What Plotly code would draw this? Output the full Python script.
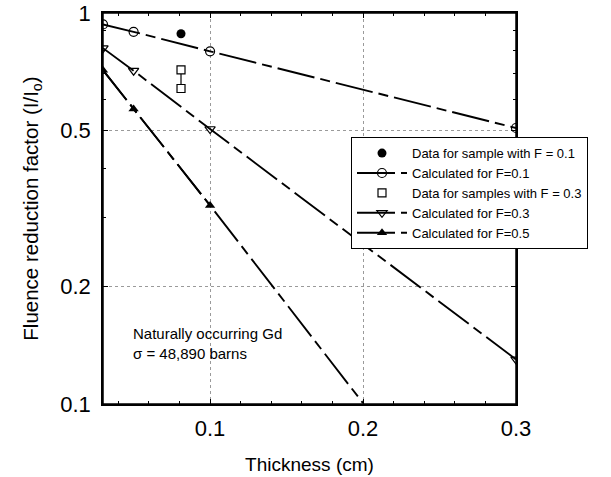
import math
import plotly.graph_objects as go

# Data
thick_calc = [0.03, 0.05, 0.1, 0.3]
calc_f01 = [0.935, 0.895, 0.798, 0.508]
calc_f03 = [0.813, 0.712, 0.505, 0.130]
thick_f05 = [0.03, 0.05, 0.1, 0.2]
calc_f05 = [0.714, 0.568, 0.322, 0.1005]
sample_f01_x = [0.081]
sample_f01_y = [0.885]
sample_f03_x = [0.081, 0.081]
sample_f03_y = [0.715, 0.641]

x_ticks = [0.1, 0.2, 0.3]
x_tick_text = ["0.1", "0.2", "0.3"]
y_ticks = [0.1, 0.2, 0.5, 1]
y_tick_text = ["0.1", "0.2", "0.5", "1"]
y_minor = [0.3, 0.4, 0.6, 0.7, 0.8, 0.9]

dash = "38px,6px,10px,6px"
blk = "black"
fam = "Liberation Sans"

fig = go.Figure()
fig.add_trace(go.Scatter(x=sample_f01_x, y=sample_f01_y, mode="markers",
                         marker=dict(symbol="circle", size=9, color=blk),
                         name="Data for sample with F = 0.1"))
fig.add_trace(go.Scatter(x=thick_calc, y=calc_f01, mode="lines+markers",
                         line=dict(color=blk, width=1.9, dash=dash),
                         marker=dict(symbol="circle-open", size=9, color=blk, line=dict(width=1.2)),
                         name="Calculated for F=0.1"))
fig.add_trace(go.Scatter(x=sample_f03_x, y=sample_f03_y, mode="lines",
                         line=dict(color=blk, width=1.2), showlegend=False, hoverinfo="skip"))
fig.add_trace(go.Scatter(x=sample_f03_x, y=sample_f03_y, mode="markers",
                         marker=dict(symbol="square", size=8, color="white", line=dict(width=1.2, color=blk)),
                         name="Data for samples with F = 0.3"))
fig.add_trace(go.Scatter(x=thick_calc, y=calc_f03, mode="lines+markers",
                         line=dict(color=blk, width=1.9, dash=dash),
                         marker=dict(symbol="triangle-down-open", size=9, color=blk, line=dict(width=1.2)),
                         name="Calculated for F=0.3"))
# F=0.5: full line (last point has no marker) + markers on the first points
fig.add_trace(go.Scatter(x=thick_f05, y=calc_f05, mode="lines",
                         line=dict(color=blk, width=1.9, dash=dash),
                         showlegend=False, hoverinfo="skip"))
fig.add_trace(go.Scatter(x=thick_f05[:3], y=calc_f05[:3], mode="lines+markers",
                         line=dict(color=blk, width=1.9, dash=dash),
                         marker=dict(symbol="triangle-up", size=9, color=blk),
                         name="Calculated for F=0.5"))

fig.add_annotation(x=0.0485, y=math.log10(0.143), xref="x", yref="y", showarrow=False,
                   text="Naturally occurring Gd<br>σ = 48,890 barns", align="left",
                   xanchor="left", yanchor="middle",
                   font=dict(size=15, color=blk, family=fam))

# plot frame
fig.add_shape(type="rect", xref="paper", yref="paper", x0=0, x1=1, y0=0, y1=1,
              line=dict(color=blk, width=1.5), layer="above")

axis_common = dict(showline=True, linecolor=blk, linewidth=1.5, mirror="allticks",
                   ticks="inside", ticklen=5, tickcolor=blk, tickwidth=1,
                   showgrid=True, gridcolor="#9a9a9a", gridwidth=1, griddash="dot",
                   zeroline=False, automargin=False, ticklabeloverflow="allow",
                   tickfont=dict(size=22, color=blk, family=fam))

fig.update_xaxes(range=[0.03, 0.3], tickvals=x_ticks, ticktext=x_tick_text,
                 title=dict(text="Thickness (cm)", font=dict(size=19, color=blk, family=fam),
                            standoff=18),
                 minor=dict(dtick=0.02, tick0=0, ticks="inside", ticklen=3, tickcolor=blk, showgrid=False),
                 ticklabelstandoff=4,
                 **axis_common)
fig.update_yaxes(type="log", range=[-1, 0], tickvals=y_ticks, ticktext=y_tick_text,
                 title=dict(text="Fluence reduction factor (I/I<sub>o</sub>)",
                            font=dict(size=20.5, color=blk, family=fam), standoff=16),
                 minor=dict(tickvals=y_minor, ticks="inside", ticklen=3, tickcolor=blk, showgrid=False),
                 ticklabelstandoff=6,
                 **axis_common)

fig.update_layout(
    width=611, height=477,
    margin=dict(l=103, r=95, t=13, b=73, autoexpand=False),
    paper_bgcolor="white", plot_bgcolor="white",
    font=dict(family=fam, color=blk),
    legend=dict(x=0.600, y=0.683, xanchor="left", yanchor="top",
                bgcolor="white", bordercolor=blk, borderwidth=1.2,
                font=dict(size=13, color=blk, family=fam),
                itemwidth=50, tracegroupgap=0),
)

fig.write_html("out.html", config={"displayModeBar": False},
               post_script="document.body.style.margin='0';")
